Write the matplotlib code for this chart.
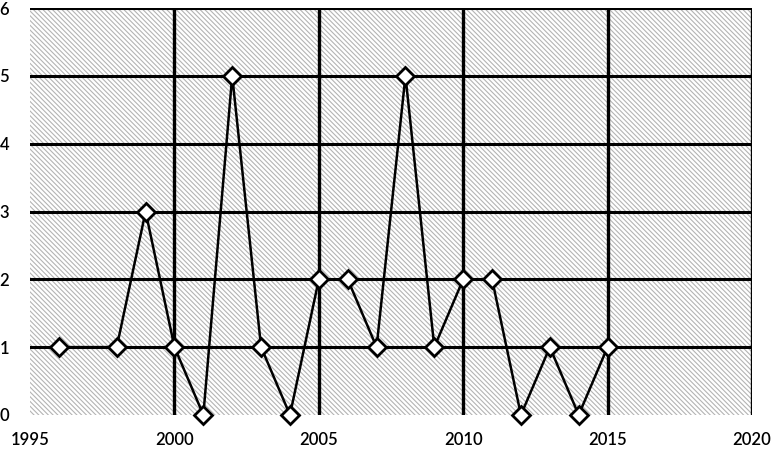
import matplotlib.pyplot as plt
from matplotlib.patches import Rectangle

years = [1996, 1998, 1999, 2000, 2001, 2002, 2003, 2004, 2005, 2006,
         2007, 2008, 2009, 2010, 2011, 2012, 2013, 2014, 2015]
counts = [1, 1, 3, 1, 0, 5, 1, 0, 2, 2, 1, 5, 1, 2, 2, 0, 1, 0, 1]
xticks = [1995, 2000, 2005, 2010, 2015, 2020]
yticks = [0, 1, 2, 3, 4, 5, 6]

plt.rcParams['hatch.linewidth'] = 0.8
plt.rcParams['font.family'] = ['Lato', 'DejaVu Sans']

fig = plt.figure(figsize=(7.72, 4.51), dpi=100)
ax = fig.add_axes([0.039, 0.08, 0.935, 0.902])
ax.set_xlim(1995, 2020)
ax.set_ylim(0, 6)

# hatched background
bg = Rectangle((0, 0), 1, 1, transform=ax.transAxes, facecolor='white',
               edgecolor='#b4b4b4', linewidth=0, hatch='\\\\\\\\\\\\\\', zorder=0)
ax.add_patch(bg)

for x in xticks[1:]:
    ax.axvline(x, color='black', lw=2.4, zorder=1)
for y in yticks[1:]:
    ax.axhline(y, color='black', lw=2.2, zorder=1)

ax.plot(years, counts, color='black', lw=1.8, marker='D', markersize=9,
        markerfacecolor='white', markeredgecolor='black', markeredgewidth=2,
        zorder=3, clip_on=False)

for s in ax.spines.values():
    s.set_visible(False)
ax.set_xticks(xticks)
ax.set_yticks(yticks)
ax.tick_params(length=0, labelsize=12)
ax.tick_params(axis='x', pad=12)
ax.tick_params(axis='y', pad=15)
for lab in ax.get_xticklabels() + ax.get_yticklabels():
    lab.set_fontweight('semibold')

plt.savefig('out.png', dpi=100)
